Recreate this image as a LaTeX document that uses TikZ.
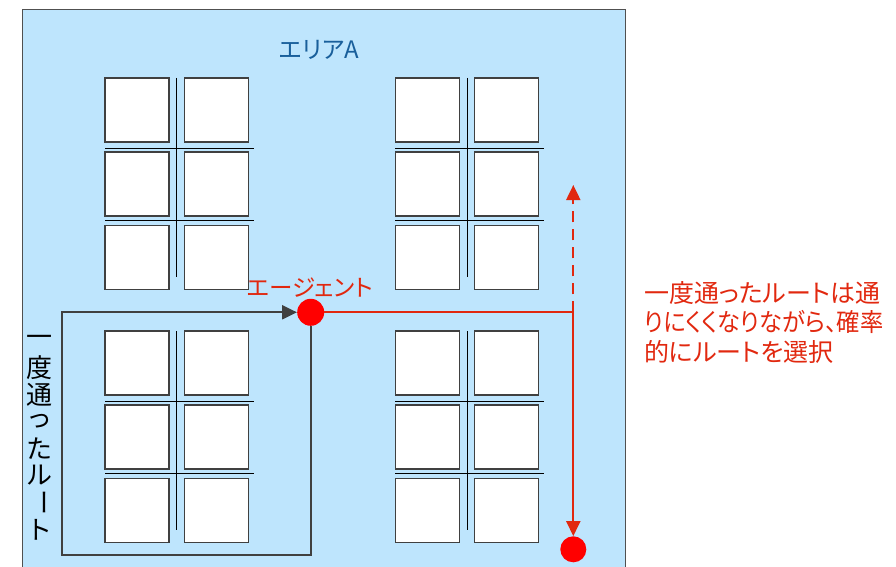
\documentclass[tikz,border=0pt]{standalone}
\usepackage{fontspec}
\usepackage{graphicx}
\setmainfont{Noto Sans CJK JP}
\newfontfamily\jpp{Noto Sans CJK JP}[RawFeature=+palt]
\usetikzlibrary{arrows.meta}
\definecolor{areabg}{RGB}{190,229,253}
\definecolor{areaborder}{RGB}{80,80,80}
\definecolor{areatext}{RGB}{25,95,155}
\definecolor{routered}{RGB}{225,40,15}
\definecolor{routegray}{RGB}{64,64,64}
\definecolor{agentred}{RGB}{255,0,0}
\newcommand\vcell[1]{\vbox to 27pt{\vss\hbox to 27pt{\hss#1\hss}\vss}}
\begin{document}
\begin{tikzpicture}[x=1pt,y=-1pt,
  bldg/.style={draw=black!75, fill=white, line width=1.1pt},
  sep/.style={draw=black, line width=1pt},
  route/.style={draw=routegray, line width=2.2pt},
  redroute/.style={draw=routered, line width=2pt},
  tiparrow/.style={-{Triangle[length=15pt,width=14pt]}},
  dot/.style={circle, fill=agentred, draw=none, inner sep=0pt, minimum size=27pt},
  jptext/.style={inner sep=0pt}
]
\useasboundingbox (0,0) rectangle (896,567);
\clip (0,0) rectangle (896,567);
% area
\fill[areabg] (22.5,9.5) rectangle (625.7,600);
\draw[areaborder, line width=1.3pt] (22.5,600) -- (22.5,9.5) -- (625.7,9.5) -- (625.7,600);
% buildings
\foreach \gx/\gy in {105/78, 395.3/78, 105/331, 395.3/331}{
  \foreach \dx in {0,79.5}{
    \foreach \dy in {0,74,147.3}{
      \draw[bldg] (\gx+\dx,\gy+\dy) rectangle ++(64,64);
    }
  }
  \draw[sep] (\gx+71.7,\gy) -- ++(0,199);
  \draw[sep] (\gx,\gy+70.5) -- ++(148.5,0);
  \draw[sep] (\gx,\gy+142.5) -- ++(148.5,0);
}
% texts
\node[jptext, text=areatext, font=\jpp\fontsize{24pt}{28pt}\selectfont] (area) at (319,49.5) {エリアA};
\node[jptext, text=routered, font=\jpp\fontsize{23.5pt}{28pt}\selectfont] (agentlabel) at (310,287.5) {エージェント};
\node[jptext, anchor=base west, align=left, text=routered, font=\jpp\fontsize{25pt}{29.5pt}\selectfont] (note) at (644,361) {一度通ったルートは通\\\scalebox{0.93}[1]{りにくくなりながら、確率}\\的にルートを選択};
\node[jptext, font=\fontsize{26pt}{27pt}\selectfont] (routelabel) at (40,435) {\vbox{\offinterlineskip\vcell{一}\vcell{度}\vcell{通}\vcell{っ}\vcell{た}\vcell{ル}\vcell{\rotatebox[origin=c]{-90}{ー}}\vcell{ト}}};
% agent and goal
\node[dot] (agent) at (310.7,312.3) {};
\node[dot, minimum size=26pt] (goal) at (573.3,549.3) {};
\coordinate (j) at (573.3,312.3);
\coordinate (up) at (573.3,185);
\coordinate (c1) at (310.7,555);
\coordinate (c2) at (62.3,555);
\coordinate (c3) at (62.3,312.3);
% routes
\draw[route, tiparrow] (agent) -- (c1) -- (c2) -- (c3) -- (agent);
\draw[redroute] (agent) -- (j);
\draw[redroute, tiparrow] (j) -- (goal);
\draw[redroute, tiparrow, dash pattern=on 11pt off 7pt] (j) -- (up);
\end{tikzpicture}
\end{document}
